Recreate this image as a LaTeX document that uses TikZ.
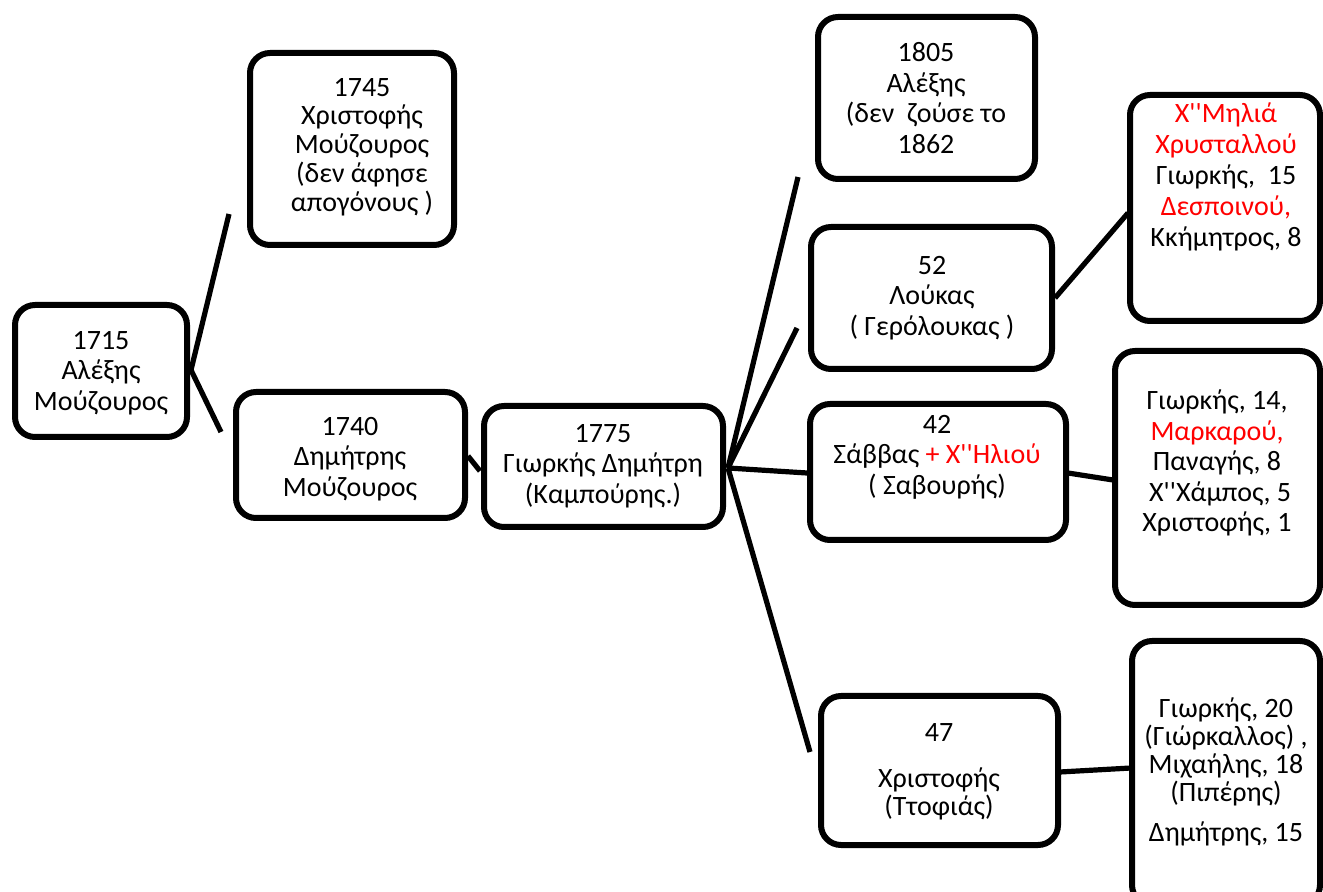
\documentclass[tikz,border=0pt]{standalone}
\usepackage{fontspec}
\setmainfont{Carlito}[Ligatures=TeXOff]
\usetikzlibrary{fit}
\definecolor{tred}{RGB}{255,0,0}
\tikzset{
  box/.style={draw=black, line width=3pt, rounded corners=10pt, inner sep=0pt, fill=white},
  txt/.style={align=center, inner sep=0pt, font=\fontsize{14pt}{15.2pt}\selectfont},
  link/.style={draw=black, line width=2.6pt}
}
\begin{document}
\begin{tikzpicture}[x=0.5pt, y=-0.5pt]
\useasboundingbox (0,0) rectangle (1323,892);
\fill[white] (0,0) rectangle (1323,892);
\clip (0,0) rectangle (1323,892);

% boxes
\node[box, fit={(15,305) (187,437)}] (b1715) {};
\node[box, fit={(250,53) (454,245)}] (b1745) {};
\node[box, fit={(236,392) (465,518)}] (b1740) {};
\node[box, fit={(484,406) (723,527)}] (b1775) {};
\node[box, fit={(818,17) (1035,179)}] (b1805) {};
\node[box, fit={(811,227) (1052,369)}] (b52) {};
\node[box, fit={(1130,95) (1320,321)}] (bmil) {};
\node[box, fit={(810,404) (1066,540)}] (b42) {};
\node[box, fit={(1115,351) (1320,605)}] (b42k) {};
\node[box, fit={(821,696) (1058,845)}] (b47) {};
\node[box, fit={(1132,641) (1320,905)}] (b47k) {};

% texts
\node[txt] (t1715) at (101,373) {1715\\Αλέξης\\Μούζουρος};
\node[txt, font=\fontsize{14pt}{14.4pt}\selectfont] (t1745) at (362,147) {1745\\Χριστοφής\\Μούζουρος\\(δεν άφησε\\απογόνους )};
\node[txt] (t1740) at (350,459) {1740\\Δημήτρης\\Μούζουρος};
\node[txt] (t1775) at (603,466) {1775\\Γιωρκής Δημήτρη\\(Καμπούρης.)};
\node[txt] (t1805) at (926,98) {1805\\Αλέξης\\(δεν\ \ ζούσε το\\1862};
\node[txt] (t52) at (932,298) {52\\Λούκας\\( Γερόλουκας )};
\node[txt, font=\fontsize{14pt}{15.5pt}\selectfont] (tmil) at (1226,177) {\textcolor{tred}{Χ''Μηλιά}\\\textcolor{tred}{Χρυσταλλού}\\Γιωρκής,\ \ 15\\\textcolor{tred}{Δεσποινού,}\\Κκήμητρος, 8};
\node[txt] (t42) at (937,457) {42\\Σάββας \textcolor{tred}{+ Χ''Ηλιού}\\( Σαβουρής)};
\node[txt] (t42k) at (1217,463) {Γιωρκής, 14,\\\textcolor{tred}{Μαρκαρού,}\\Παναγής, 8\\\ Χ''Χάμπος, 5\\Χριστοφής, 1};
\node[txt, font=\fontsize{14pt}{14pt}\selectfont] (t47) at (939,772) {47\\[9pt]Χριστοφής\\(Ττοφιάς)};
\node[txt, font=\fontsize{14pt}{14pt}\selectfont] (t47k) at (1226,772) {Γιωρκής, 20\\(Γιώρκαλλος) ,\\Μιχαήλης, 18\\(Πιπέρης)\\[6pt]Δημήτρης, 15};

% connector points
\coordinate (hubA) at (191,370);
\coordinate (endA1) at (229,214);
\coordinate (endA2) at (221,432);
\coordinate (c40a) at (468,456);
\coordinate (c75a) at (480,471);
\coordinate (hubB) at (728,468);
\coordinate (endB1) at (798,177);
\coordinate (endB2) at (797,328);
\coordinate (endB3) at (807,473);
\coordinate (endB4) at (810,752);
\coordinate (c52a) at (1055,298);
\coordinate (c52b) at (1128,213);
\coordinate (c42a) at (1068,473);
\coordinate (c42b) at (1113,480);
\coordinate (c47a) at (1060,772);
\coordinate (c47b) at (1131,768);

\draw[link] (endA1) -- (hubA) -- (endA2);
\draw[link] (c40a) -- (c75a);
\draw[link] (hubB) -- (endB1);
\draw[link] (hubB) -- (endB2);
\draw[link] (hubB) -- (endB3);
\draw[link] (hubB) -- (endB4);
\draw[link] (c52a) -- (c52b);
\draw[link] (c42a) -- (c42b);
\draw[link] (c47a) -- (c47b);
\end{tikzpicture}
\end{document}
